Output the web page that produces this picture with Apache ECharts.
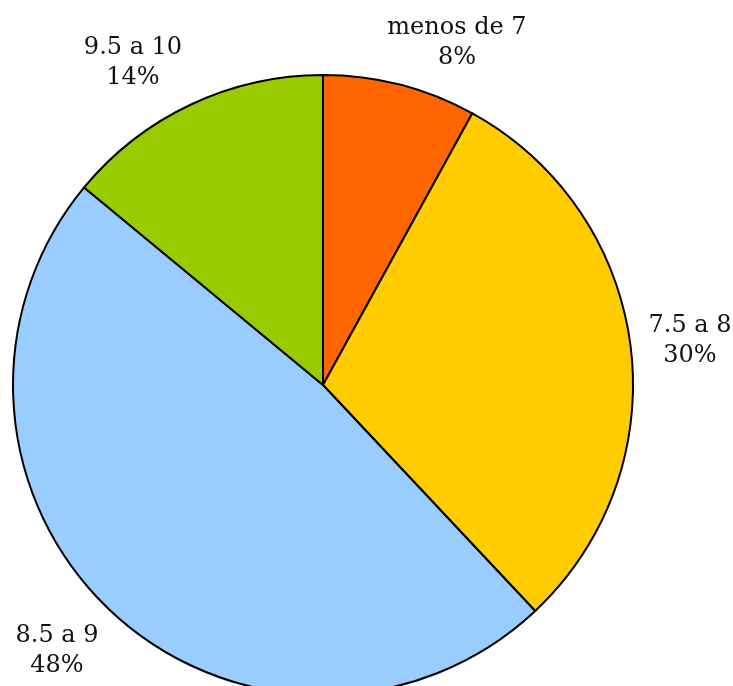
<!DOCTYPE html>
<html>
<head>
<meta charset="utf-8">
<script src="https://cdn.jsdelivr.net/npm/echarts@6/dist/echarts.min.js"></script>
<style>
html,body{margin:0;padding:0;background:#fff;}
#chart{width:733px;height:686px;}
</style>
</head>
<body>
<div id="chart"></div>
<script>
const categories = ['menos de 7', '7.5 a 8', '8.5 a 9', '9.5 a 10'];
const percents = [8, 30, 48, 14];
const colors = ['#FF6600', '#FFCC00', '#99CCFF', '#99CC00'];
const labelPos = [[457, 43], [690, 341], [57, 651], [133, 63]];

const chart = echarts.init(document.getElementById('chart'));
chart.setOption({
  animation: false,
  series: [{
    type: 'pie',
    center: [323, 385],
    radius: 310,
    startAngle: 90,
    clockwise: true,
    data: categories.map((c, i) => ({ name: c, value: percents[i], itemStyle: { color: colors[i] } })),
    itemStyle: { borderColor: '#000', borderWidth: 2 },
    label: {
      show: true,
      position: 'outside',
      formatter: p => p.name + '\n' + p.value + '%',
      fontFamily: 'DejaVu Serif',
      fontSize: 24,
      lineHeight: 30,
      color: '#111',
      align: 'center',
      overflow: 'none',
      width: 200
    },
    labelLine: { show: false },
    labelLayout: function (params) {
      const p = labelPos[params.dataIndex];
      return { x: p[0], y: p[1], align: 'center', verticalAlign: 'middle' };
    }
  }]
});
</script>
</body>
</html>
